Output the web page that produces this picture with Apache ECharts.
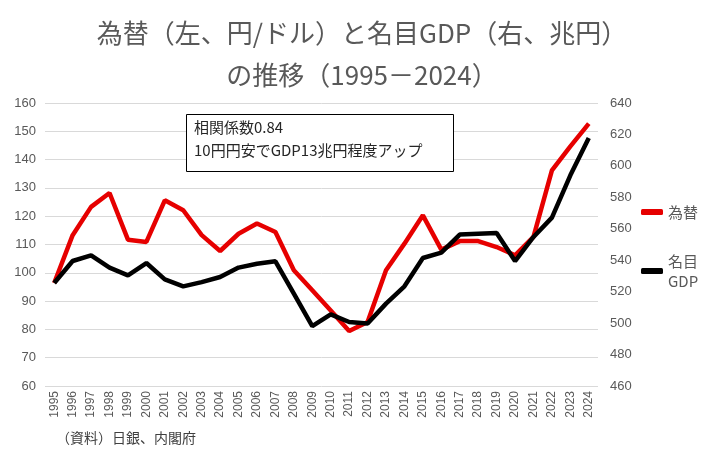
<!DOCTYPE html>
<html>
<head>
<meta charset="utf-8">
<script src="https://cdn.jsdelivr.net/npm/echarts@6/dist/echarts.min.js"></script>
<style>
  html, body { margin: 0; padding: 0; background: #fff; }
  #chart { width: 724px; height: 465px; }
</style>
</head>
<body>
<div id="chart"></div>
<script>
// 年（横軸）
const years = ['1995', '1996', '1997', '1998', '1999', '2000', '2001', '2002', '2003', '2004',
  '2005', '2006', '2007', '2008', '2009', '2010', '2011', '2012', '2013', '2014',
  '2015', '2016', '2017', '2018', '2019', '2020', '2021', '2022', '2023', '2024']
// 為替（左軸、円/ドル）
const fxRate = [96.4, 113.3, 123.3, 128.2, 111.7, 110.9, 125.6, 122.1, 113.3, 107.7,
  113.8, 117.4, 114.4, 100.9, 93.8, 86.7, 79.4, 82.6, 100.9, 110.3,
  120.3, 108.2, 111.2, 111.2, 109.1, 106.2, 112.7, 136.2, 144.7, 152.7]
// 名目GDP（右軸、兆円）
const nominalGdp = [525.5, 539.5, 543.1, 535.3, 530.4, 538.2, 527.8, 523.4, 526.1, 529.3,
  535.3, 537.8, 539.3, 518.7, 498.1, 505.6, 500.7, 499.7, 512.4, 523.4,
  541.4, 544.8, 556.3, 556.9, 557.3, 539.5, 554.8, 567.1, 594.0, 617.7]

const FONT = '"Noto Sans CJK JP", "Noto Sans", sans-serif'
const NUM_FONT = '"Liberation Sans", Arial, sans-serif'
const GRAY = '#595959'

const chart = echarts.init(document.getElementById('chart'))

const option = {
  backgroundColor: '#fff',
  textStyle: { fontFamily: FONT },
  title: {
    text: '為替（左、円/ドル）と名目GDP（右、兆円）\nの推移（1995－2024）',
    left: 'center',
    top: 7,
    textStyle: {
      fontFamily: FONT,
      fontSize: 26,
      fontWeight: 'normal',
      color: GRAY,
      lineHeight: 42,
      align: 'center'
    }
  },
  grid: { left: 45, right: 126, top: 103, bottom: 79 },
  legend: {
    orient: 'vertical',
    left: 636,
    top: 197,
    itemWidth: 22,
    itemHeight: 6,
    itemGap: 19,
    icon: 'roundRect',
    textStyle: { fontFamily: FONT, fontSize: 15, color: GRAY, lineHeight: 20 },
    data: [
      { name: '為替' },
      { name: '名目\nGDP', textStyle: { padding: [20, 0, 0, 0], lineHeight: 20 } }
    ]
  },
  xAxis: {
    type: 'category',
    data: years,
    boundaryGap: true,
    axisLine: { show: false },
    axisTick: { show: false },
    axisLabel: { rotate: 90, fontFamily: NUM_FONT, fontSize: 12, color: GRAY, margin: 5, interval: 0 }
  },
  yAxis: [
    {
      type: 'value',
      min: 60,
      max: 160,
      interval: 10,
      axisLine: { show: false },
      axisTick: { show: false },
      axisLabel: { fontFamily: NUM_FONT, fontSize: 13, color: GRAY, margin: 9 },
      splitLine: { lineStyle: { color: '#d9d9d9', width: 1 } }
    },
    {
      type: 'value',
      min: 460,
      max: 640,
      interval: 20,
      axisLine: { show: false },
      axisTick: { show: false },
      axisLabel: { fontFamily: NUM_FONT, fontSize: 13, color: GRAY, margin: 12 },
      splitLine: { show: false }
    }
  ],
  series: [
    {
      name: '為替',
      type: 'line',
      yAxisIndex: 0,
      data: fxRate,
      symbol: 'none',
      color: '#e60000',
      lineStyle: { width: 4.5, color: '#e60000' },
      z: 2
    },
    {
      name: '名目\nGDP',
      type: 'line',
      yAxisIndex: 1,
      data: nominalGdp,
      symbol: 'none',
      color: '#000',
      lineStyle: { width: 4.5, color: '#000' },
      z: 3
    }
  ],
  graphic: [
    {
      type: 'rect',
      left: 186,
      top: 114,
      shape: { width: 267, height: 57 },
      style: { fill: '#fff', stroke: '#000', lineWidth: 1 },
      z: 10
    },
    {
      type: 'text',
      left: 194,
      top: 120,
      style: { text: '相関係数0.84', font: '15px ' + FONT, fill: '#262626' },
      z: 11
    },
    {
      type: 'text',
      left: 194,
      top: 143,
      style: { text: '10円円安でGDP13兆円程度アップ', font: '15px ' + FONT, fill: '#262626' },
      z: 11
    },
    {
      type: 'text',
      left: 56,
      top: 431,
      style: { text: '（資料）日銀、内閣府', font: '14px ' + FONT, fill: '#404040' }
    }
  ]
}

chart.setOption(option)
</script>
</body>
</html>
